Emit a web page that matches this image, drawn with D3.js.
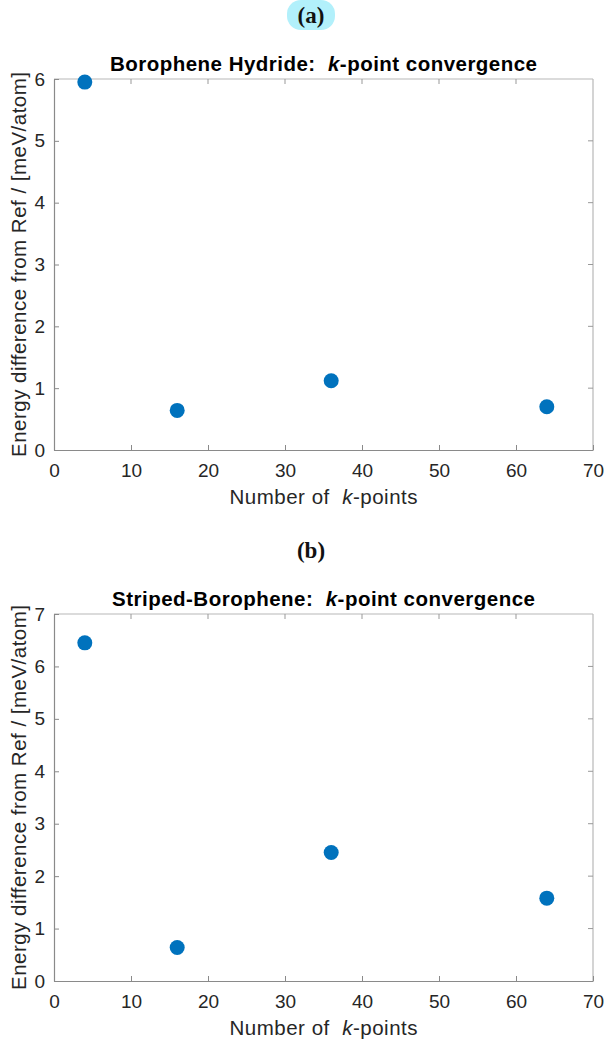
<!DOCTYPE html>
<html>
<head>
<meta charset="utf-8">
<script src="https://cdn.jsdelivr.net/npm/d3@7"></script>
<style>
  html, body { margin: 0; padding: 0; background: #fff; }
  svg text { font-family: "Liberation Sans", Arial, Helvetica, sans-serif; }
</style>
</head>
<body>
<div id="chart"></div>
<script>
// k-point meshes sampled (same for both structures)
const kPoints = [4, 16, 36, 64]

// energy difference from reference, meV/atom
const hydrideEnergy = [5.95, 0.64, 1.12, 0.70]
const stripedEnergy = [6.45, 0.64, 2.45, 1.58]

const xTicks = [0, 10, 20, 30, 40, 50, 60, 70]
const hydrideYTicks = [0, 1, 2, 3, 4, 5, 6]
const stripedYTicks = [0, 1, 2, 3, 4, 5, 6, 7]

const panels = [
  { tag: "(a)", name: "Borophene Hydride:", values: hydrideEnergy, yTicks: hydrideYTicks, top: 79, bottom: 450, titleWidth: 427, highlight: true },
  { tag: "(b)", name: "Striped-Borophene:", values: stripedEnergy, yTicks: stripedYTicks, top: 614, bottom: 981, titleWidth: 423, highlight: false }
]

const width = 608
const height = 1044
const left = 54
const right = 593
const blue = "#0072BD"
const textColor = "#262626"

const svg = d3.select("#chart")
    .append("svg")
    .attr("width", width)
    .attr("height", height)

const x = d3.scaleLinear().domain([0, 70]).range([left, right])

panels.forEach(p => {
  const y = d3.scaleLinear().domain([0, d3.max(p.yTicks)]).range([p.bottom, p.top])
  const g = svg.append("g")
  const cx = (left + right) / 2

  // panel tag, serif bold like the LaTeX caption
  const tagY = p.top - 63
  if (p.highlight) {
    g.append("rect")
        .attr("x", 287).attr("y", tagY - 16)
        .attr("width", 48).attr("height", 30)
        .attr("rx", 14).attr("ry", 14)
        .attr("fill", "#b2f0fb")
  }
  g.append("text")
      .attr("x", 311).attr("y", tagY + 7)
      .attr("text-anchor", "middle")
      .style("font-family", "'Liberation Serif', 'DejaVu Serif', serif")
      .style("font-weight", "bold")
      .style("font-size", "23px")
      .attr("fill", "#111")
      .text(p.tag)

  // box: top and right edges lighter
  g.append("line")
      .attr("x1", left).attr("x2", right).attr("y1", p.top).attr("y2", p.top)
      .attr("stroke", "#b8b8b8").attr("stroke-width", 1.2)
  g.append("line")
      .attr("x1", right).attr("x2", right).attr("y1", p.top).attr("y2", p.bottom)
      .attr("stroke", "#b8b8b8").attr("stroke-width", 1.2)

  // top/right inner ticks
  g.selectAll(".tt").data(xTicks.slice(1, -1)).join("line")
      .attr("x1", d => x(d)).attr("x2", d => x(d))
      .attr("y1", p.top).attr("y2", p.top + 5)
      .attr("stroke", "#999")
  g.selectAll(".rt").data(p.yTicks.slice(1, -1)).join("line")
      .attr("x1", right).attr("x2", right - 5)
      .attr("y1", d => y(d)).attr("y2", d => y(d))
      .attr("stroke", "#999")

  // bottom axis
  const xAxis = g.append("g")
      .attr("transform", `translate(0,${p.bottom})`)
      .call(d3.axisBottom(x).tickValues(xTicks).tickFormat(d3.format("d"))
          .tickSizeInner(-5).tickSizeOuter(0))
  xAxis.select(".domain").attr("stroke", "#8a8a8a").attr("stroke-width", 1.2)
  xAxis.selectAll(".tick line").attr("stroke", "#8a8a8a")
  xAxis.selectAll(".tick text")
      .attr("fill", textColor)
      .attr("y", 14)
      .attr("dy", "0.71em")
      .style("font-size", "19px")

  // left axis
  const yAxis = g.append("g")
      .attr("transform", `translate(${left},0)`)
      .call(d3.axisLeft(y).tickValues(p.yTicks).tickFormat(d3.format("d"))
          .tickSizeInner(-5).tickSizeOuter(0).tickPadding(9))
  yAxis.select(".domain").attr("stroke", "#8a8a8a").attr("stroke-width", 1.2)
  yAxis.selectAll(".tick line").attr("stroke", "#8a8a8a")
  yAxis.selectAll(".tick text")
      .attr("fill", textColor)
      .style("font-size", "19px")
  yAxis.selectAll("text").attr("font-family", null)
  xAxis.selectAll("text").attr("font-family", null)

  // title with italic k
  const title = g.append("text")
      .attr("x", cx).attr("y", p.top - 8)
      .attr("text-anchor", "middle")
      .attr("textLength", p.titleWidth)
      .attr("lengthAdjust", "spacing")
      .style("font-weight", "bold")
      .style("font-size", "20.5px")
      .attr("fill", "#000")
  title.append("tspan").text(p.name + "\u00a0\u00a0")
  title.append("tspan").style("font-style", "italic").text("k")
  title.append("tspan").text("-point convergence")

  // x label
  const xl = g.append("text")
      .attr("x", cx).attr("y", p.bottom + 54)
      .attr("text-anchor", "middle")
      .attr("textLength", 188)
      .attr("lengthAdjust", "spacing")
      .style("font-size", "20.5px")
      .attr("fill", textColor)
  xl.append("tspan").text("Number of\u00a0\u00a0")
  xl.append("tspan").style("font-style", "italic").text("k")
  xl.append("tspan").text("-points")

  // y label
  g.append("text")
      .attr("transform", `translate(26,${(p.top + p.bottom) / 2}) rotate(-90)`)
      .attr("text-anchor", "middle")
      .attr("textLength", 385)
      .attr("lengthAdjust", "spacing")
      .style("font-size", "20.5px")
      .attr("fill", textColor)
      .text("Energy difference from Ref / [meV/atom]")

  // data points
  g.selectAll("circle")
      .data(kPoints.map((k, i) => ({ k, e: p.values[i] })))
      .join("circle")
      .attr("cx", d => x(d.k))
      .attr("cy", d => y(d.e))
      .attr("r", 7.5)
      .attr("fill", blue)
})
</script>
</body>
</html>
